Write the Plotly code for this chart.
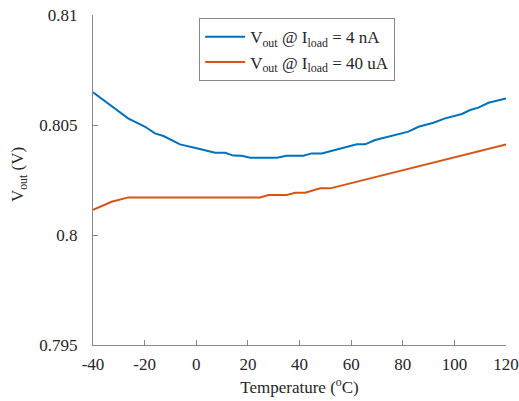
import plotly.graph_objects as go

temp_a = [-40, -26.4, -19.8, -16, -12.7, -6.3, 0.2, 7.3, 11.2, 14.4, 17.6, 20.9, 31.2, 35.0, 41.5, 44.7,
          48.6, 62.2, 65.4, 69.3, 82.2, 86.1, 91.9, 96.4, 102.9, 106.1, 109.3, 113.2, 120]
vout_a = [0.80649, 0.80530, 0.80492, 0.80462, 0.80450, 0.80412, 0.80394, 0.80374, 0.80374, 0.80361,
          0.80360, 0.80351, 0.80351, 0.80360, 0.80360, 0.80371, 0.80371, 0.80412, 0.80412, 0.80432,
          0.80470, 0.80492, 0.80510, 0.80530, 0.80550, 0.80568, 0.80579, 0.80601, 0.80621]

temp_b = [-40, -32.8, -26.3, 24.8, 28, 35.1, 38.3, 42.2, 48, 51.9, 120]
vout_b = [0.80114, 0.80151, 0.80171, 0.80171, 0.80182, 0.80182, 0.80192, 0.80192, 0.80212, 0.80212, 0.80412]

names = ["V<sub>out</sub> @ I<sub>load</sub> = 4 nA", "V<sub>out</sub> @ I<sub>load</sub> = 40 uA"]
colors = ["#0072BD", "#D95319"]

x_ticks = [-40, -20, 0, 20, 40, 60, 80, 100, 120]
x_ticktext = ["-40", "-20", "0", "20", "40", "60", "80", "100", "120"]
y_ticks = [0.795, 0.8, 0.805, 0.81]
y_ticktext = ["0.795", "0.8", "0.805", "0.81"]
x_title = "Temperature (<sup>o</sup>C)"
y_title = "V<sub>out</sub> (V)"

font = "Liberation Serif"


def tfont():
    return dict(family=font, size=17, color="#262626")


fig = go.Figure()
for t, v, n, c in [(temp_a, vout_a, names[0], colors[0]), (temp_b, vout_b, names[1], colors[1])]:
    fig.add_trace(go.Scatter(x=t, y=v, mode="lines", name=n, line=dict(color=c, width=2)))

fig.update_layout(
    template="none",
    width=519, height=401,
    margin=dict(l=93, r=13, t=15, b=56),
    paper_bgcolor="white", plot_bgcolor="white",
    font=tfont(),
    showlegend=True,
    legend=dict(x=0.257, y=0.99, xanchor="left", yanchor="top",
                bordercolor="#888888", borderwidth=1, bgcolor="white",
                font=tfont(), tracegroupgap=0, itemwidth=40),
)
fig.update_xaxes(range=[-40, 120], tickvals=x_ticks, ticktext=x_ticktext, ticks="inside", ticklen=5,
                 tickcolor="#888888", tickfont=tfont(), ticklabelstandoff=4, automargin=False,
                 showline=True, linecolor="#888888", linewidth=1, showgrid=False, zeroline=False,
                 title=dict(text=x_title, font=tfont(), standoff=7))
fig.update_yaxes(range=[0.795, 0.81], tickvals=y_ticks, ticktext=y_ticktext, ticks="inside", ticklen=5,
                 tickcolor="#888888", tickfont=tfont(), ticklabelstandoff=11, automargin=False,
                 showline=True, linecolor="#888888", linewidth=1, showgrid=False, zeroline=False)
fig.add_annotation(text=y_title, xref="paper", yref="paper", x=-0.179, y=0.515,
                   xanchor="center", yanchor="middle", textangle=-90, showarrow=False, font=tfont())

fig.write_html("out.html")
